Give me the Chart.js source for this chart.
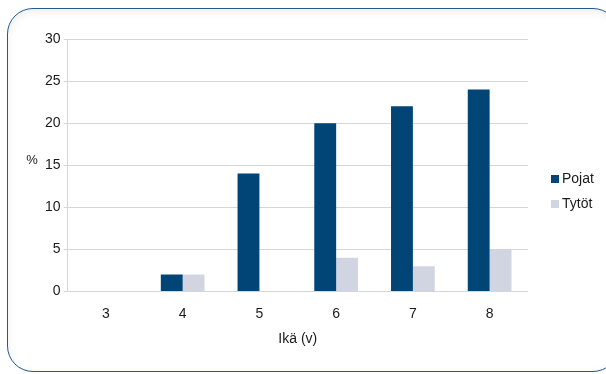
<!DOCTYPE html>
<html>
<head>
<meta charset="utf-8">
<script src="https://cdn.jsdelivr.net/npm/chart.js@4"></script>
<style>
  html, body { margin: 0; padding: 0; background: #fff; }
  #wrap { position: relative; width: 606px; height: 374px; overflow: hidden; }
  #frame {
    position: absolute; left: 7px; top: 8px; width: 610px; height: 362px;
    border: 1.5px solid #22598c; border-radius: 26px;
    box-shadow: inset 0 3px 8px rgba(0,0,0,0.07);
  }
  #c { position: absolute; left: 0; top: 0; }
</style>
</head>
<body>
<div id="wrap">
  <div id="frame"></div>
  <canvas id="c" width="606" height="374"></canvas>
</div>
<script>
// Age groups (years) and share of children per group, percent
const ages = ['3', '4', '5', '6', '7', '8'];
const boys = [0, 2, 14, 20, 22, 24];
const girls = [0, 2, 0, 4, 3, 5];
const yTicks = [0, 5, 10, 15, 20, 25, 30];

const FONT = 'Liberation Sans, Arial, Helvetica, sans-serif';
Chart.defaults.font.family = FONT;
Chart.defaults.font.size = 14;
Chart.defaults.color = '#1a1a1a';

// Horizontal "%" unit label left of the value axis
const unitLabel = {
  id: 'unitLabel',
  afterDraw(chart) {
    const y = chart.scales.y;
    const ctx = chart.ctx;
    ctx.save();
    ctx.font = '13px ' + FONT;
    ctx.fillStyle = '#1a1a1a';
    ctx.textAlign = 'center';
    ctx.textBaseline = 'middle';
    ctx.fillText('%', 32, y.getPixelForValue(15) - 5);
    ctx.restore();
  }
};

// Series key at the right, one small square and name per dataset
const sideLegend = {
  id: 'sideLegend',
  afterDraw(chart) {
    const ctx = chart.ctx;
    const area = chart.chartArea;
    const x0 = area.right + 23;
    const yMid = chart.height / 2 + 4.5;
    const step = 25;
    const sets = chart.data.datasets;
    ctx.save();
    ctx.font = '14px ' + FONT;
    ctx.textBaseline = 'middle';
    ctx.textAlign = 'left';
    sets.forEach((ds, i) => {
      const y = yMid + (i - (sets.length - 1) / 2) * step;
      ctx.fillStyle = ds.backgroundColor;
      ctx.fillRect(x0, y - 4, 8, 8);
      ctx.fillStyle = '#1a1a1a';
      ctx.fillText(ds.label, x0 + 11, y);
    });
    ctx.restore();
  }
};

new Chart(document.getElementById('c'), {
  type: 'bar',
  data: {
    labels: ages,
    datasets: [
      { label: 'Pojat', data: boys, backgroundColor: '#004576' },
      { label: 'Tytöt', data: girls, backgroundColor: '#d0d5e1' }
    ]
  },
  options: {
    responsive: false,
    animation: false,
    layout: { padding: { left: 42, right: 78, top: 39, bottom: 26 } },
    datasets: { bar: { barPercentage: 1, categoryPercentage: 0.57 } },
    plugins: {
      legend: { display: false },
      tooltip: { enabled: false }
    },
    scales: {
      x: {
        grid: { display: false },
        border: { display: false },
        ticks: { padding: 6 },
        title: { display: true, text: 'Ikä (v)', padding: { top: 3, bottom: 0 }, font: { size: 14 } }
      },
      y: {
        min: 0, max: 30,
        afterBuildTicks(axis) { axis.ticks = yTicks.map(v => ({ value: v })); },
        grid: { color: '#d6d6d6', tickLength: 4 },
        border: { color: '#d6d6d6' },
        ticks: { padding: 3 }
      }
    }
  },
  plugins: [unitLabel, sideLegend]
});
</script>
</body>
</html>
